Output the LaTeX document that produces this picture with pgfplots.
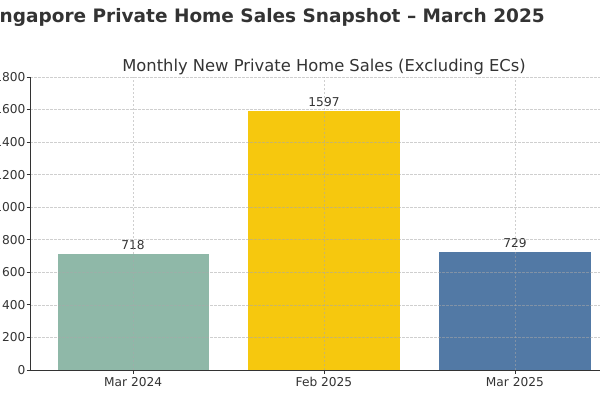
\documentclass[border=0pt]{standalone}
\usepackage{pgfplots}
\pgfplotsset{compat=1.18}
\usepackage{fontspec}
\setmainfont{DejaVu Sans}
\definecolor{txt}{HTML}{333333}
\definecolor{gridc}{HTML}{A8A8A8}
\definecolor{cgreen}{RGB}{143,184,168}
\definecolor{cyellow}{RGB}{246,200,14}
\definecolor{cblue}{RGB}{82,121,165}
\begin{document}
\begin{tikzpicture}[x=1bp,y=1bp]
\clip (0,0) rectangle (600,400);
\path[use as bounding box] (0,0) rectangle (600,400);
\begin{axis}[
  at={(30bp,30bp)}, anchor=south west,
  scale only axis, width=588bp, height=293bp,
  xmin=-0.54, xmax=2.54, ymin=0, ymax=1800,
  axis x line*=bottom, axis y line*=left,
  axis line style={txt, line width=0.9bp},
  xtick={0,1,2}, xticklabels={Mar 2024,Feb 2025,Mar 2025},
  ytick={0,200,...,1800},
  tick style={txt, line width=0.8bp},
  tick align=outside, major tick length=3.5bp,
  tick label style={font=\fontsize{12.2bp}{14bp}\selectfont, text=txt},
  /pgf/number format/assume math mode=true,
  /pgf/number format/1000 sep={},
  yticklabel style={xshift=2.5bp},
  xticklabel style={yshift=-0.5bp},
  grid=major,
  major grid style={gridc, opacity=0.55, line width=0.6bp, dash pattern=on 2.5bp off 1.5bp},
  axis on top,
  clip=false,
]
\addplot[ybar, bar width=0.8, fill=cgreen, draw=white, line width=0.4bp, bar shift=0pt] coordinates {(0,718)};
\addplot[ybar, bar width=0.8, fill=cyellow, draw=white, line width=0.4bp, bar shift=0pt] coordinates {(1,1597)};
\addplot[ybar, bar width=0.8, fill=cblue, draw=white, line width=0.4bp, bar shift=0pt] coordinates {(2,729)};
\node[anchor=base, text=txt, font=\fontsize{12.2bp}{14bp}\selectfont] at (axis cs:0,718) [yshift=4bp] {718};
\node[anchor=base, text=txt, font=\fontsize{12.2bp}{14bp}\selectfont] at (axis cs:1,1597) [yshift=4bp] {1597};
\node[anchor=base, text=txt, font=\fontsize{12.2bp}{14bp}\selectfont] at (axis cs:2,729) [yshift=4bp] {729};
\end{axis}
\node[anchor=base, text=txt, font=\fontsize{16.35bp}{19bp}\selectfont, inner sep=0pt] at (324,329) {Monthly New Private Home Sales (Excluding ECs)};
\node[anchor=base east, text=txt, font=\bfseries\fontsize{18.5bp}{22bp}\selectfont, inner sep=0pt] at (545,378) {Singapore Private Home Sales Snapshot – March 2025};
\end{tikzpicture}
\end{document}
